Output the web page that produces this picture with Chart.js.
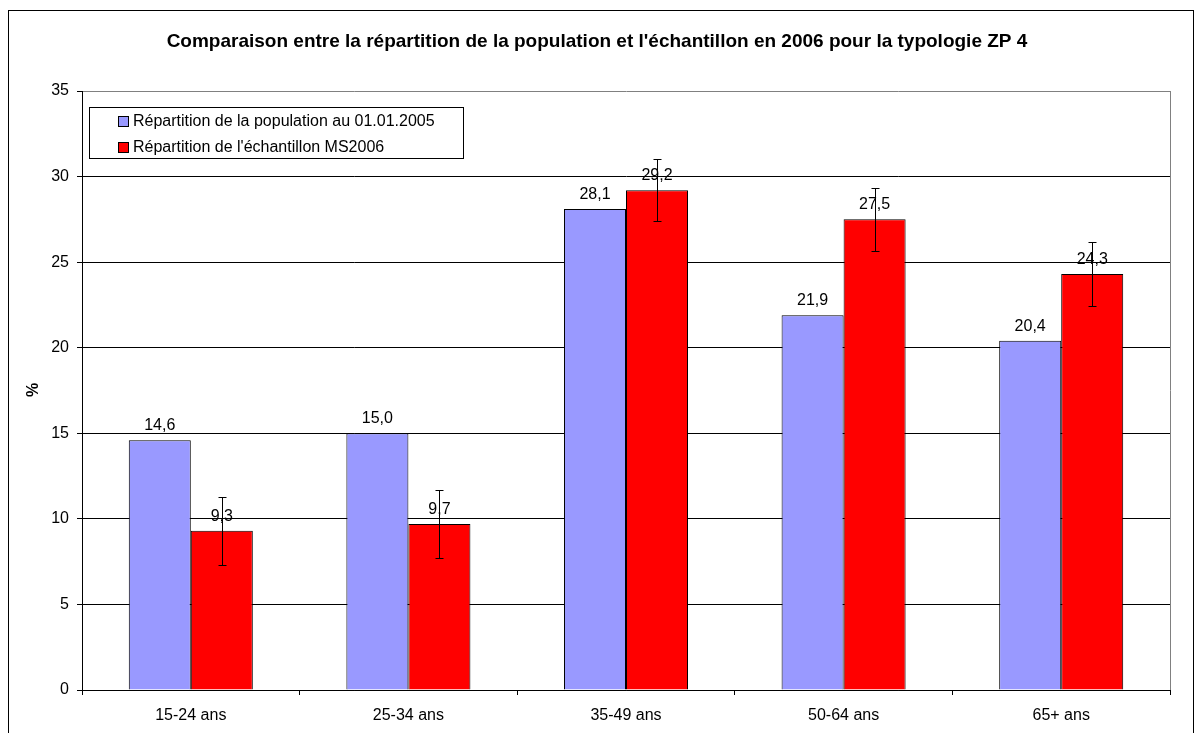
<!DOCTYPE html>
<html>
<head>
<meta charset="utf-8">
<script src="https://cdn.jsdelivr.net/npm/chart.js@4.4.1/dist/chart.umd.min.js"></script>
<style>
  body { margin: 0; background: #fff; }
  #wrap { position: relative; width: 1194px; height: 733px; overflow: hidden; }
  #frame { position: absolute; left: 8px; top: 10px; width: 1186px; height: 800px; box-sizing: border-box; border: 1px solid #000; pointer-events: none; }
</style>
</head>
<body>
<div id="wrap">
  <canvas id="chart" width="1194" height="733"></canvas>
  <div id="frame"></div>
</div>
<script>
const titleText = "Comparaison entre la répartition de la population et l'échantillon en 2006 pour la typologie ZP 4";
const yTitle = "%";
const categories = ["15-24 ans", "25-34 ans", "35-49 ans", "50-64 ans", "65+ ans"];
const population = [14.6, 15.0, 28.1, 21.9, 20.4];
const echantillon = [9.3, 9.7, 29.2, 27.5, 24.3];
const echantillonErr = [2.0, 2.0, 1.8, 1.85, 1.85];
const seriesLabels = ["Répartition de la population au 01.01.2005", "Répartition de l'échantillon MS2006"];
const seriesColors = ["#9999ff", "#ff0000"];

const FONT = "'Liberation Sans', Arial, sans-serif";
const fmt = v => v.toFixed(1).replace(".", ",");

const extras = {
  id: "extras",
  afterDatasetsDraw(chart) {
    const ctx = chart.ctx;
    const y = chart.scales.y;
    const area = chart.chartArea;
    ctx.save();

    // plot area right border (grey)
    ctx.strokeStyle = "#808080";
    ctx.lineWidth = 1;
    ctx.beginPath();
    ctx.moveTo(Math.round(area.right) + 0.5, area.top);
    ctx.lineTo(Math.round(area.right) + 0.5, area.bottom);
    ctx.stroke();

    // error bars on the sample series
    const meta1 = chart.getDatasetMeta(1);
    ctx.strokeStyle = "#000";
    meta1.data.forEach((bar, i) => {
      const v = echantillon[i], e = echantillonErr[i];
      const x = Math.round(bar.x) + 0.5;
      const yt = Math.round(y.getPixelForValue(v + e)) + 0.5;
      const yb = Math.round(y.getPixelForValue(v - e)) + 0.5;
      ctx.beginPath();
      ctx.moveTo(x, yt); ctx.lineTo(x, yb);
      ctx.moveTo(x - 4, yt); ctx.lineTo(x + 4, yt);
      ctx.moveTo(x - 4, yb); ctx.lineTo(x + 4, yb);
      ctx.stroke();
    });

    // value labels
    ctx.fillStyle = "#000";
    ctx.font = "16px " + FONT;
    ctx.textAlign = "center";
    ctx.textBaseline = "alphabetic";
    chart.data.datasets.forEach((ds, di) => {
      chart.getDatasetMeta(di).data.forEach((bar, i) => {
        ctx.fillText(fmt(ds.data[i]), bar.x, bar.y - 10);
      });
    });

    // title
    ctx.font = "bold 19px " + FONT;
    ctx.textBaseline = "middle";
    ctx.fillText(titleText, 597, 42);

    // y axis title
    ctx.save();
    ctx.translate(34, 390);
    ctx.rotate(-Math.PI / 2);
    ctx.font = "bold 16px " + FONT;
    ctx.fillText(yTitle, 0, 0);
    ctx.restore();

    // legend box
    const lx = 89.5, ly = 107.5, lw = 374, lh = 51;
    ctx.fillStyle = "#fff";
    ctx.fillRect(lx, ly, lw, lh);
    ctx.strokeStyle = "#000";
    ctx.strokeRect(lx, ly, lw, lh);
    ctx.font = "16px " + FONT;
    ctx.textAlign = "left";
    chart.data.datasets.forEach((ds, di) => {
      const cy = 121 + di * 25.5;
      ctx.fillStyle = ds.backgroundColor;
      ctx.fillRect(118.5, Math.round(cy) - 4.5, 10, 10);
      ctx.strokeRect(118.5, Math.round(cy) - 4.5, 10, 10);
      ctx.fillStyle = "#000";
      ctx.fillText(ds.label, 133, cy + 1);
    });
    ctx.restore();
  }
};

new Chart(document.getElementById("chart"), {
  type: "bar",
  data: {
    labels: categories,
    datasets: [
      { label: seriesLabels[0], data: population, backgroundColor: seriesColors[0], borderColor: "#000", borderWidth: 1 },
      { label: seriesLabels[1], data: echantillon, backgroundColor: seriesColors[1], borderColor: "#000", borderWidth: 1 }
    ]
  },
  options: {
    responsive: false,
    animation: false,
    events: [],
    layout: { padding: { top: 91, right: 24, left: 0, bottom: 0 } },
    datasets: { bar: { barPercentage: 1, categoryPercentage: 0.57 } },
    plugins: { legend: { display: false }, title: { display: false }, tooltip: { enabled: false } },
    scales: {
      x: {
        afterFit: s => { s.height = 43; },
        grid: { offset: true, drawOnChartArea: false, drawTicks: true, tickLength: 5, tickColor: "#000" },
        border: { color: "#000", width: 1 },
        ticks: { color: "#000", font: { family: FONT, size: 16 }, padding: 11, maxRotation: 0 }
      },
      y: {
        min: 0,
        max: 35,
        afterFit: s => { s.width = 82; },
        ticks: { stepSize: 5, color: "#000", font: { family: FONT, size: 16 }, padding: 8 },
        grid: {
          color: c => (c.tick && c.tick.value === 35 ? "#808080" : "#000"),
          tickColor: "#000",
          tickLength: 5
        },
        border: { color: "#000", width: 1 }
      }
    }
  },
  plugins: [extras]
});
</script>
</body>
</html>
